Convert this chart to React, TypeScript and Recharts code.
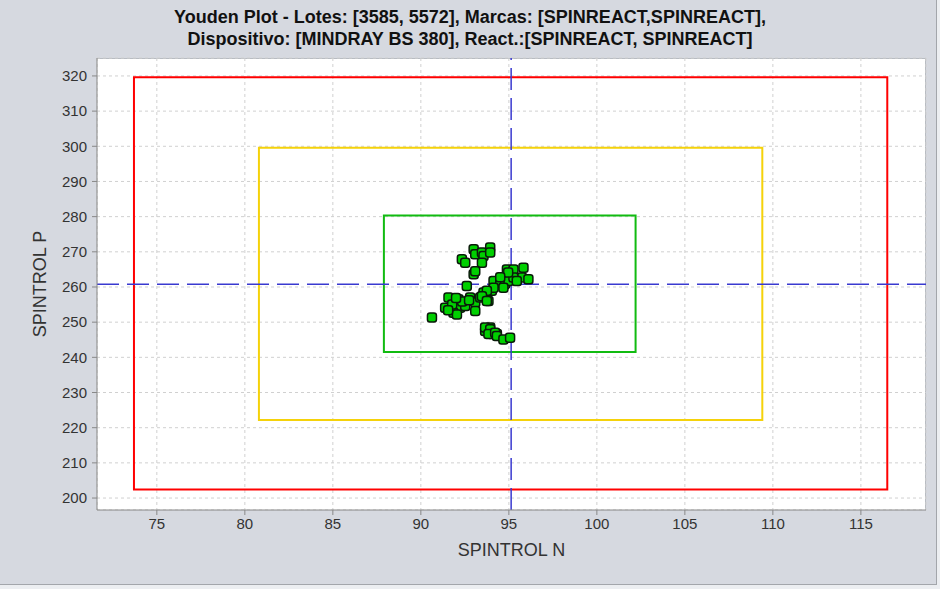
import React from "react";
import {
  CartesianGrid,
  ReferenceArea,
  ReferenceLine,
  Scatter,
  ScatterChart,
  XAxis,
  YAxis,
} from "recharts";

// Youden plot: SPINTROL N (x) vs SPINTROL P (y)

const xTicks = [75, 80, 85, 90, 95, 100, 105, 110, 115];
const yTicks = [200, 210, 220, 230, 240, 250, 260, 270, 280, 290, 300, 310, 320];

// means of each control
const meanN = 95.13;
const meanP = 260.8;

// 1, 2 and 3 SD limits: [xMin, xMax, yMin, yMax]
const limit1 = [87.9, 102.2, 241.5, 280.3];
const limit2 = [80.8, 109.4, 222.2, 299.6];
const limit3 = [73.7, 116.5, 202.4, 319.6];

// paired results
const valuesN = [
  92.33, 92.52, 93.0, 93.09, 93.47, 93.56, 93.94, 93.94, 93.47, 93.0, 93.09,
  92.61, 91.57, 91.38, 92.14, 92.23, 91.85, 90.63, 92.8, 93.09, 92.52, 93.09,
  93.56, 94.03, 93.84, 93.37, 92.05, 93.65, 93.94, 94.03, 94.32, 94.89, 95.26,
  95.83, 95.74, 96.11, 94.13, 94.51, 94.79, 94.98, 95.26, 95.45, 94.69, 94.13,
  93.75, 93.47, 93.75, 93.65, 93.94, 93.84, 94.22, 94.32, 94.69, 95.07, 91.78,
  91.55, 92.35, 92.74, 92.0, 94.96, 94.51,
];
const valuesP = [
  267.9, 266.9, 270.7, 269.3, 269.8, 268.8, 271.2, 269.8, 266.9, 263.6, 264.5,
  260.3, 257.0, 254.1, 256.5, 254.1, 252.7, 251.3, 257.0, 255.6, 254.6, 253.2,
  258.4, 258.9, 256.0, 257.0, 252.2, 247.5, 248.5, 246.6, 246.6, 265.0, 265.0,
  265.5, 262.7, 262.2, 261.7, 261.3, 260.8, 261.7, 262.7, 261.7, 259.8, 259.8,
  258.9, 257.4, 256.0, 248.5, 248.0, 246.6, 247.0, 246.1, 245.1, 245.6, 255.0,
  253.4, 255.9, 256.2, 256.9, 264.1, 262.8,
];

const points = valuesN.map((n, i) => ({ n, p: valuesP[i] }));

const W = 940;
const H = 589;
const PLOT = { left: 97, top: 58, right: 926, bottom: 510 };
const FONT = "'Liberation Sans', Arial, sans-serif";

function Marker(props: any) {
  const { cx, cy } = props;
  if (cx == null || cy == null) return null;
  return (
    <rect
      x={cx - 4.5}
      y={cy - 4.5}
      width={9}
      height={9}
      rx={2.5}
      fill="#00d000"
      stroke="#0a1a0a"
      strokeWidth={1.5}
    />
  );
}

function LimitBox({ box, color }: { box: number[]; color: string }) {
  return (
    <ReferenceArea
      x1={box[0]}
      x2={box[1]}
      y1={box[2]}
      y2={box[3]}
      fill="none"
      stroke={color}
      strokeWidth={2}
      fillOpacity={0}
      ifOverflow="visible"
    />
  );
}

export default function App() {
  return (
    <div
      style={{
        position: "fixed",
        left: 0,
        top: 0,
        width: W,
        height: H,
        background: "#eceef1",
        fontFamily: FONT,
      }}
    >
      <div
        style={{
          position: "absolute",
          left: 0,
          top: 0,
          width: 937,
          height: 585,
          background: "#d6d9e0",
          borderRight: "1px solid #a3a6ab",
          borderBottom: "1px solid #a3a6ab",
          boxSizing: "border-box",
        }}
      />
      <div
        style={{
          position: "absolute",
          left: 0,
          width: W,
          top: 6,
          textAlign: "center",
          fontFamily: "'Liberation Sans Narrow', 'Arial Narrow', sans-serif",
          fontWeight: "bold",
          fontSize: 18,
          lineHeight: "22px",
          color: "#111",
        }}
      >
        <div>Youden Plot - Lotes: [3585, 5572], Marcas: [SPINREACT,SPINREACT],</div>
        <div>Dispositivo: [MINDRAY BS 380], React.:[SPINREACT, SPINREACT]</div>
      </div>
      <div
        style={{
          position: "absolute",
          left: PLOT.left,
          top: PLOT.top,
          width: PLOT.right - PLOT.left,
          height: PLOT.bottom - PLOT.top,
          background: "#fff",
          borderTop: "1px solid #b8bcc2",
          borderRight: "1px solid #b8bcc2",
          boxSizing: "border-box",
        }}
      />
      <div style={{ position: "absolute", left: 0, top: 0 }}>
        <ScatterChart
          width={W}
          height={H}
          margin={{ top: PLOT.top, right: W - PLOT.right, bottom: 39, left: 47 }}
        >
          <CartesianGrid stroke="#d0d0d0" strokeDasharray="3 3" />
          <XAxis
            type="number"
            dataKey="n"
            domain={[71.6, 118.7]}
            ticks={xTicks}
            allowDataOverflow
            height={40}
            stroke="#888"
            tickSize={5}
            tickMargin={3}
            tick={{ fill: "#333", fontSize: 15, fontFamily: FONT }}
          />
          <YAxis
            type="number"
            dataKey="p"
            domain={[196.6, 325.1]}
            ticks={yTicks}
            allowDataOverflow
            width={50}
            stroke="#888"
            tickSize={5}
            tickMargin={5}
            tick={{ fill: "#333", fontSize: 15, fontFamily: FONT }}
          />
          <LimitBox box={limit3} color="#ff0000" />
          <LimitBox box={limit2} color="#f5d20a" />
          <LimitBox box={limit1} color="#11bb11" />
          <ReferenceLine
            x={meanN}
            stroke="#3a3ad0"
            strokeWidth={1.5}
            strokeDasharray="22 8"
          />
          <ReferenceLine
            y={meanP}
            stroke="#3a3ad0"
            strokeWidth={1.5}
            strokeDasharray="22 8"
          />
          <Scatter data={points} shape={Marker} isAnimationActive={false} />
        </ScatterChart>
      </div>
      <div
        style={{
          position: "absolute",
          left: PLOT.left,
          width: PLOT.right - PLOT.left,
          top: 540,
          textAlign: "center",
          fontSize: 18,
          color: "#333",
        }}
      >
        SPINTROL N
      </div>
      <div
        style={{
          position: "absolute",
          left: 40,
          top: (PLOT.top + PLOT.bottom) / 2,
          transform: "translate(-50%, -50%) rotate(-90deg)",
          fontSize: 18,
          color: "#333",
          whiteSpace: "nowrap",
        }}
      >
        SPINTROL P
      </div>
    </div>
  );
}
